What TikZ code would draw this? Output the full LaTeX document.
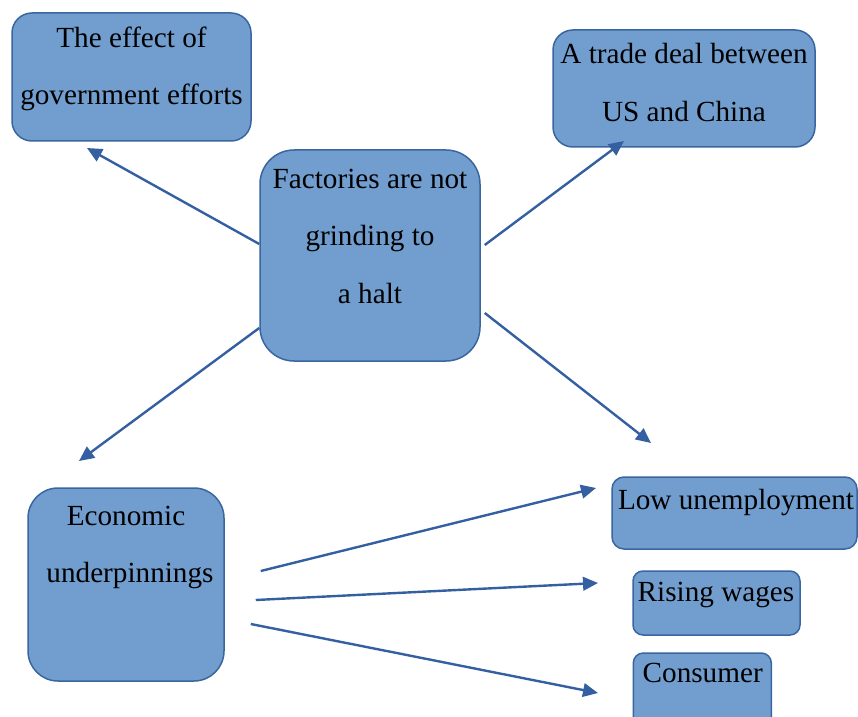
\documentclass[tikz,border=0pt]{standalone}
\usepackage{fontspec}
\setmainfont{Liberation Serif}
\usetikzlibrary{arrows.meta,calc}
\definecolor{boxfill}{RGB}{113,158,206}
\definecolor{boxline}{RGB}{58,102,160}
\definecolor{arrowc}{RGB}{52,96,162}
\begin{document}
\begin{tikzpicture}[x=0.5pt,y=-0.5pt,
  box/.style={draw=boxline, line width=0.75pt, fill=boxfill, rounded corners=#1, inner sep=0pt},
  txt/.style={anchor=base, inner sep=0pt, font=\fontsize{14.6}{17}\selectfont},
  arr/.style={draw=arrowc, line width=1.2pt, -{Triangle[length=7.5pt,width=6.8pt]}}]
\useasboundingbox (0,0) rectangle (858,717);
% boxes
\node[box=10pt, minimum width=119.5pt, minimum height=64pt] (gov) at (131.5,77) {};
\node[box=10pt, minimum width=131pt, minimum height=58.5pt] (trade) at (684,88.5) {};
\node[box=17pt, minimum width=110pt, minimum height=105.5pt] (fac) at (370,255.5) {};
\node[box=15pt, minimum width=98pt, minimum height=96.5pt] (eco) at (126,584.5) {};
\node[box=6pt, minimum width=122.5pt, minimum height=36pt] (low) at (734.5,513) {};
\node[box=5pt, minimum width=83.5pt, minimum height=32pt] (wage) at (716.5,603) {};
\node[box=5pt, minimum width=69pt, minimum height=45pt] (cons) at (702.3,698) {};
% texts
\node[txt] (gov1) at (131.5,48) {The effect of};
\node[txt] (gov2) at (131.5,105) {government efforts};
\node[txt] (trade1) at (684,64) {A trade deal between};
\node[txt] (trade2) at (684,121.5) {US and China};
\node[txt] (fac1) at (370,188.5) {Factories are not};
\node[txt] (fac2) at (370,246) {grinding to};
\node[txt] (fac3) at (370,303) {a halt};
\node[txt] (eco1) at (126,525) {Economic};
\node[txt] (eco2) at (130,582) {underpinnings};
\node[txt] (low1) at (736,509) {Low unemployment};
\node[txt] (wage1) at (716,601.5) {Rising wages};
\node[txt] (cons1) at (702.7,682.5) {Consumer};
% arrow ends
\coordinate (s1) at ($(fac.west)+(0,-11.5)$);
\coordinate (s2) at ($(fac.west)+(0,72.5)$);
\coordinate (s3) at ($(fac.east)+(4,-10.5)$);
\coordinate (s4) at ($(fac.east)+(4,57.5)$);
\coordinate (e1) at (87,148);
\coordinate (e2) at (624,141);
\coordinate (e3) at (79,461);
\coordinate (e4) at (651,443);
\coordinate (s5) at ($(eco.east)+(36,-13.5)$);
\coordinate (s6) at ($(eco.east)+(31,15.5)$);
\coordinate (s7) at ($(eco.east)+(26,39.5)$);
\coordinate (e5) at (596,488);
\coordinate (e6) at (598,583);
\coordinate (e7) at (598,693);
\draw[arr] (s1) -- (e1);
\draw[arr] (s3) -- (e2);
\draw[arr] (s2) -- (e3);
\draw[arr] (s4) -- (e4);
\draw[arr] (s5) -- (e5);
\draw[arr] (s6) -- (e6);
\draw[arr] (s7) -- (e7);
\end{tikzpicture}
\end{document}
